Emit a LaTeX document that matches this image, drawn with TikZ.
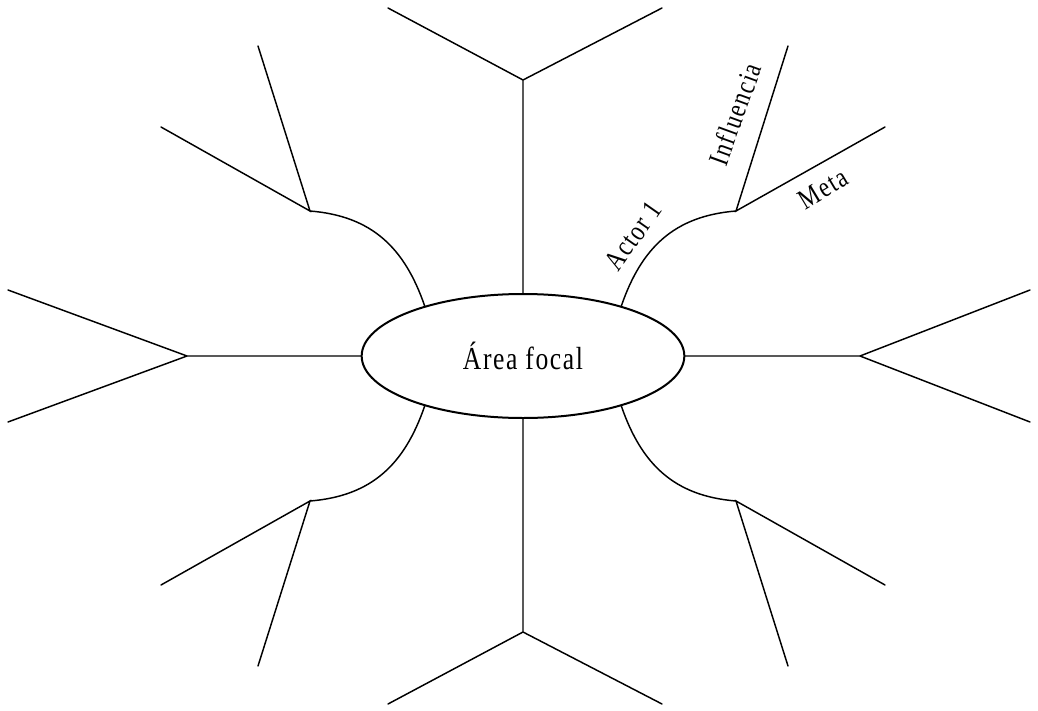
\documentclass[tikz,border=0pt]{standalone}
\usepackage{fontspec}
\setmainfont{Liberation Serif}
\newfontfamily\narrowserif[FakeStretch=0.8,LetterSpace=5]{Liberation Serif}
\usetikzlibrary{shapes.geometric}
\begin{document}
\begin{tikzpicture}[x=0.75pt,y=-0.75pt,
  branch/.style={line width=1.1pt,line cap=round},
  focus/.style={ellipse,draw,line width=1.5pt,minimum width=242pt,minimum height=93pt,inner sep=0pt,font=\narrowserif\fontsize{24}{28}\selectfont},
  lbl/.style={font=\narrowserif\fontsize{21.5}{24}\selectfont,inner sep=0pt}]
\useasboundingbox (0,0) rectangle (1038,710);

\node[focus] (focal) at (523,356) {Área focal};

% straight branches with their forks
\coordinate (T) at (523,80);   \coordinate (T1) at (388,8);   \coordinate (T2) at (662,8);
\coordinate (B) at (523,632);  \coordinate (B1) at (388,704); \coordinate (B2) at (662,704);
\coordinate (L) at (187,356);  \coordinate (L1) at (8,290);   \coordinate (L2) at (8,422);
\coordinate (R) at (860,356);  \coordinate (R1) at (1030,290);\coordinate (R2) at (1030,422);

\draw[branch] (focal.north) -- (T) (T1) -- (T) -- (T2);
\draw[branch] (focal.south) -- (B) (B1) -- (B) -- (B2);
\draw[branch] (focal.west) -- (L) (L1) -- (L) -- (L2);
\draw[branch] (focal.east) -- (R) (R1) -- (R) -- (R2);

% curved actor branches
\coordinate (TR) at (736,211); \coordinate (TRa) at (788,46);  \coordinate (TRb) at (885,127);
\coordinate (TL) at (310,211); \coordinate (TLa) at (258,46);  \coordinate (TLb) at (161,127);
\coordinate (BL) at (310,501); \coordinate (BLa) at (258,666); \coordinate (BLb) at (161,585);
\coordinate (BR) at (736,501); \coordinate (BRa) at (788,666); \coordinate (BRb) at (885,585);

\draw[branch] (focal.27) .. controls +(20,-58) and +(-62,5) .. (TR);
\draw[branch] (focal.153) .. controls +(-20,-58) and +(62,5) .. (TL);
\draw[branch] (focal.207) .. controls +(-20,58) and +(62,-5) .. (BL);
\draw[branch] (focal.333) .. controls +(20,58) and +(-62,-5) .. (BR);

\draw[branch] (TRa) -- (TR) -- (TRb);
\draw[branch] (TLa) -- (TL) -- (TLb);
\draw[branch] (BLa) -- (BL) -- (BLb);
\draw[branch] (BRa) -- (BR) -- (BRb);

% labels on the first actor branch
\node[lbl,rotate=55] (actor) at (633,236) {Actor 1};
\node[lbl,rotate=70] (infl) at (735,114) {Influencia};
\node[lbl,rotate=31] (meta) at (823,189) {Meta};
\end{tikzpicture}
\end{document}
